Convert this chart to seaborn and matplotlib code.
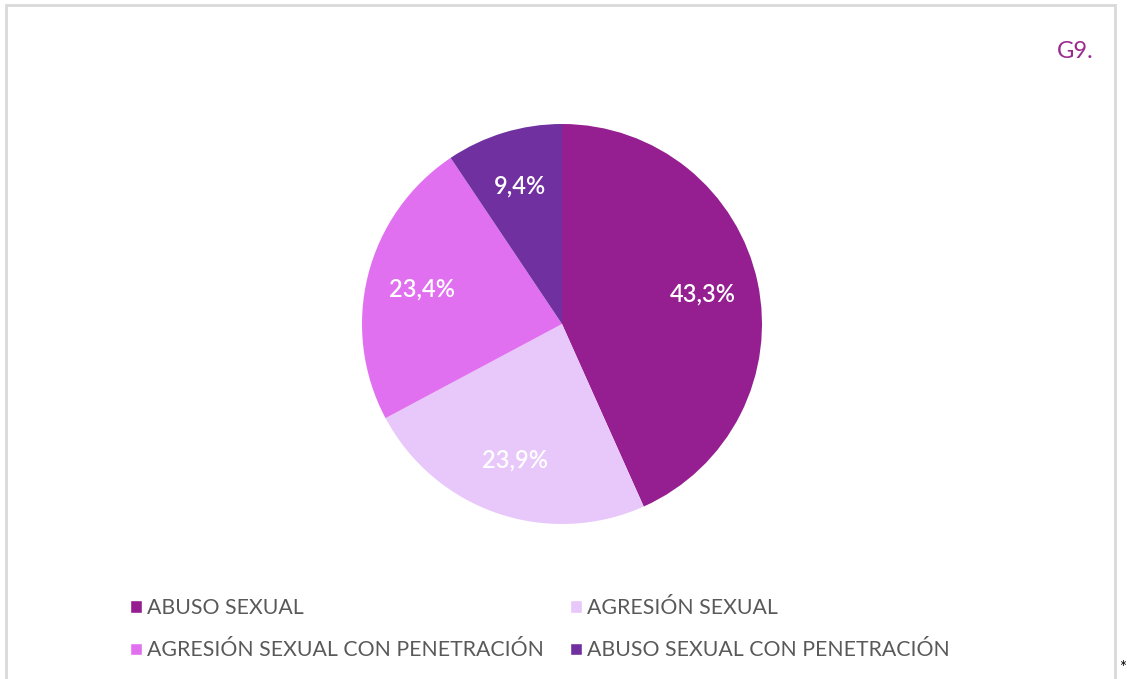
import matplotlib
matplotlib.use("Agg")
import matplotlib.pyplot as plt
import seaborn as sns
from matplotlib.patches import Patch, Rectangle

categories = ["ABUSO SEXUAL", "AGRESIÓN SEXUAL",
              "AGRESIÓN SEXUAL CON PENETRACIÓN", "ABUSO SEXUAL CON PENETRACIÓN"]
values = [43.3, 23.9, 23.4, 9.4]
colors = ["#951E91", "#E8C8FA", "#E070F0", "#7030A0"]
chart_tag = "G9."

sns.set_theme(style="white")
plt.rcParams['font.family'] = ['Lato', 'DejaVu Sans']
palette = sns.color_palette(colors)

fig = plt.figure(figsize=(11.27, 6.79), dpi=100)
fig.patch.set_facecolor("white")

# light grey frame around the chart area
fig.patches.append(Rectangle((6 / 1127, -0.05), 1109 / 1127, 1 - 5 / 679 + 0.05,
                             transform=fig.transFigure, fill=False,
                             edgecolor="#D9D9D9", linewidth=2))

ax = fig.add_axes([362 / 1127, 155 / 679, 400 / 1127, 400 / 679])
wedges, texts, autotexts = ax.pie(
    values, colors=palette, startangle=90, counterclock=False,
    autopct=lambda p: f"{p:.1f}%".replace(".", ","), pctdistance=0.72,
    wedgeprops=dict(linewidth=0))
for t in autotexts:
    t.set_color("white")
    t.set_fontsize(17)
    t.set_fontweight("semibold")
ax.set_xlim(-1, 1)
ax.set_ylim(-1, 1)
ax.set_aspect("equal")

fig.text(1075 / 1127, 1 - 52 / 679, chart_tag, color="#9B2A8F", fontsize=17,
         ha="center", va="center")
fig.text(1123 / 1127, 1 - 668 / 679, "*", color="black", fontsize=12,
         ha="center", va="center")

# legend in row-major order (matplotlib fills columns first)
order = [0, 2, 1, 3]
handles = [Patch(facecolor=palette[i], label=categories[i]) for i in order]
fig.legend(handles=handles, loc="upper left", bbox_to_anchor=(111 / 1127, 1 - 579 / 679),
           ncol=2, frameon=False, fontsize=15.3, labelcolor="#595959",
           handlelength=0.55, handleheight=0.55, handletextpad=0.25,
           columnspacing=1.23, labelspacing=1.05)

fig.savefig("out.png", dpi=100, facecolor="white")
